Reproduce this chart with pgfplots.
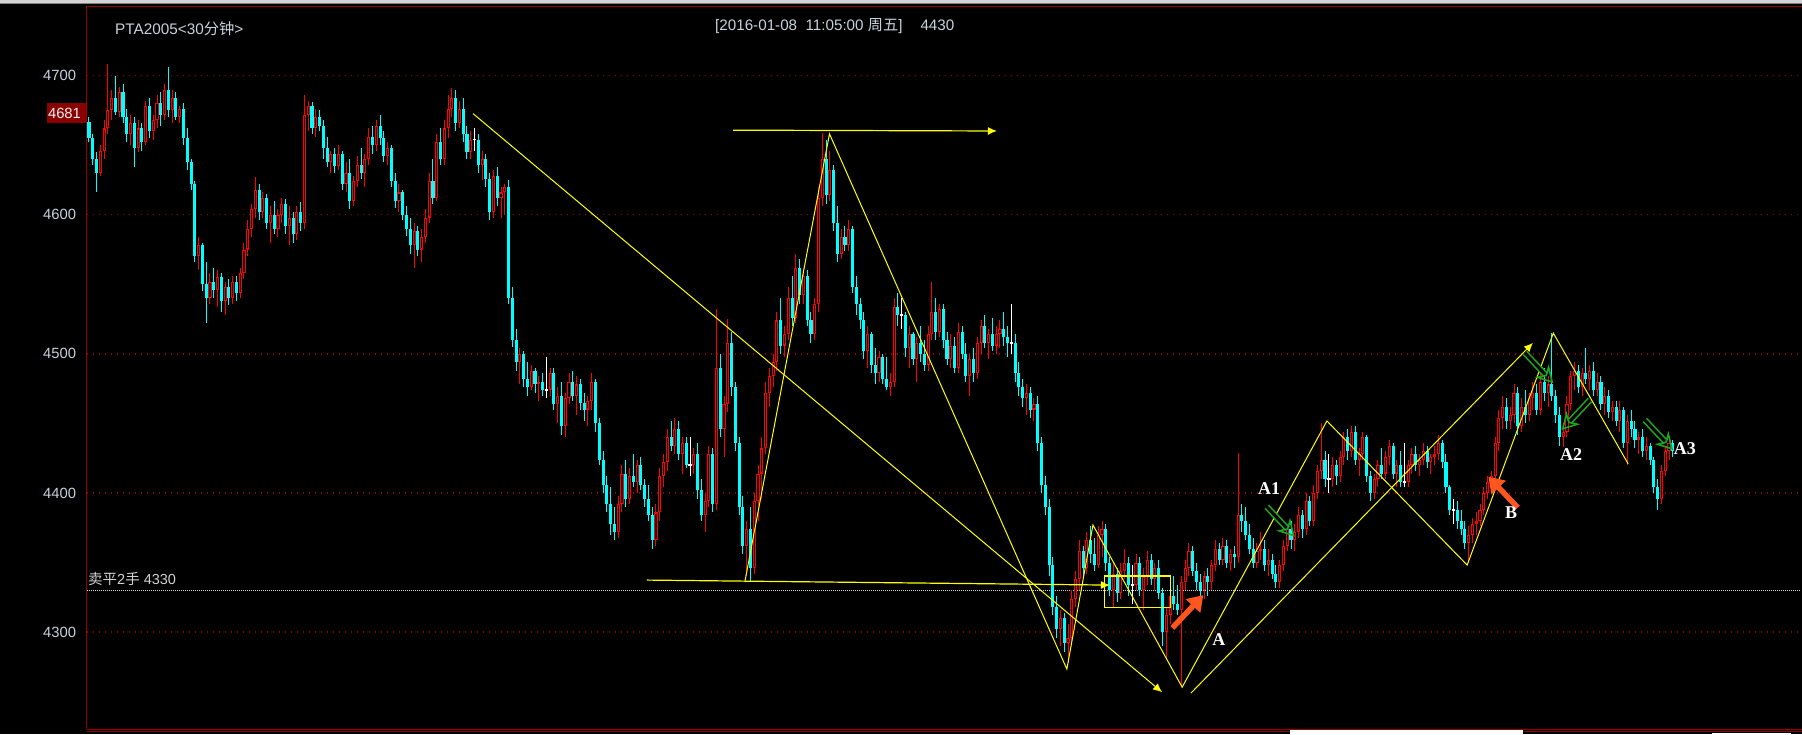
\documentclass[border=0pt]{standalone}
\usepackage{fontspec}
\setmainfont{Liberation Sans}
\newfontfamily\cjk{Noto Sans CJK SC}
\newfontfamily\lserif{Liberation Serif}
\usepackage{pgfplots}
\usepackage{pgfplotstable}
\pgfplotsset{compat=1.18}
\usetikzlibrary{arrows.meta}
\definecolor{cyanc}{RGB}{0,255,255}
\definecolor{redc}{RGB}{255,0,0}
\definecolor{gridred}{RGB}{150,0,0}
\definecolor{framered}{RGB}{150,0,0}
\definecolor{ticktext}{RGB}{200,210,222}
\definecolor{ylw}{RGB}{255,255,0}
\definecolor{orng}{RGB}{255,85,30}
\definecolor{grn}{RGB}{30,165,30}
\definecolor{boxred}{RGB}{139,0,0}
\definecolor{topgray}{RGB}{212,212,212}
\definecolor{midgray}{RGB}{130,130,130}
\definecolor{dotwhite}{RGB}{210,210,210}
\pgfplotstableread{
o h l c
4667 4670 4652 4655
4655 4658 4636 4640
4640 4645 4616 4630
4630 4650 4628 4646
4646 4668 4640 4662
4662 4708 4658 4675
4675 4690 4668 4684
4684 4700 4672 4674
4674 4692 4670 4688
4688 4694 4666 4670
4670 4676 4652 4658
4658 4672 4650 4666
4666 4670 4634 4648
4648 4668 4645 4662
4662 4666 4646 4652
4652 4682 4650 4678
4678 4684 4655 4660
4660 4672 4654 4668
4668 4686 4662 4680
4680 4688 4664 4672
4672 4694 4668 4690
4690 4706 4670 4675
4675 4690 4666 4684
4684 4688 4668 4670
4670 4678 4666 4676
4676 4680 4650 4655
4655 4662 4632 4638
4638 4640 4618 4622
4622 4624 4566 4570
4570 4584 4560 4578
4578 4580 4545 4550
4550 4566 4522 4540
4540 4558 4536 4552
4552 4562 4540 4546
4546 4560 4534 4555
4555 4558 4530 4538
4538 4552 4528 4548
4548 4554 4535 4540
4540 4556 4536 4552
4552 4556 4538 4544
4544 4562 4540 4558
4558 4580 4554 4575
4575 4596 4570 4590
4590 4608 4584 4604
4604 4627 4598 4618
4618 4622 4596 4602
4602 4616 4598 4612
4612 4615 4590 4594
4594 4606 4580 4600
4600 4610 4586 4590
4590 4604 4584 4600
4600 4612 4594 4608
4608 4611 4586 4592
4592 4606 4578 4598
4598 4602 4580 4586
4586 4606 4582 4602
4602 4609 4588 4594
4594 4686 4590 4672
4672 4682 4660 4678
4678 4681 4658 4662
4662 4676 4656 4670
4670 4675 4660 4664
4664 4668 4640 4648
4648 4656 4634 4638
4638 4646 4630 4644
4644 4648 4630 4635
4635 4650 4632 4644
4644 4646 4618 4622
4622 4638 4616 4630
4630 4640 4604 4610
4610 4628 4606 4624
4624 4642 4620 4636
4636 4648 4626 4630
4630 4644 4620 4640
4640 4662 4636 4656
4656 4664 4644 4650
4650 4668 4646 4664
4664 4672 4650 4655
4655 4660 4638 4642
4642 4652 4636 4648
4648 4650 4620 4624
4624 4630 4605 4610
4610 4622 4602 4616
4616 4618 4596 4600
4600 4606 4585 4590
4590 4598 4572 4578
4578 4594 4562 4588
4588 4592 4570 4575
4575 4590 4566 4584
4584 4604 4580 4598
4598 4630 4594 4624
4624 4640 4608 4612
4612 4658 4610 4652
4652 4662 4636 4640
4640 4668 4636 4662
4662 4686 4655 4676
4676 4691 4670 4684
4684 4690 4660 4666
4666 4682 4662 4676
4676 4684 4652 4658
4658 4664 4640 4645
4645 4660 4640 4654
4654 4662 4646 4654
4654 4658 4630 4636
4636 4646 4625 4640
4640 4644 4620 4626
4626 4630 4596 4602
4602 4632 4598 4628
4628 4634 4606 4612
4612 4620 4598 4616
4616 4622 4600 4620
4620 4625 4536 4540
4540 4548 4505 4510
4510 4518 4488 4494
4494 4504 4478 4500
4500 4502 4476 4482
4482 4494 4470 4476
4476 4492 4474 4488
4488 4490 4472 4478
4478 4484 4466 4480
4480 4486 4470 4474
4474 4498 4468 4474
4474 4490 4470 4486
4486 4490 4460 4464
4464 4476 4450 4470
4470 4480 4442 4448
4448 4472 4440 4468
4468 4486 4464 4480
4480 4488 4466 4470
4470 4484 4456 4478
4478 4482 4460 4465
4465 4472 4452 4460
4460 4470 4448 4466
4466 4486 4460 4480
4480 4482 4444 4450
4450 4454 4420 4424
4424 4430 4400 4406
4406 4412 4386 4392
4392 4404 4370 4378
4378 4390 4366 4372
4372 4398 4368 4392
4392 4420 4386 4414
4414 4424 4390 4396
4396 4418 4392 4412
4412 4428 4404 4408
4408 4424 4400 4420
4420 4426 4402 4406
4406 4410 4390 4396
4396 4406 4380 4384
4384 4390 4360 4366
4366 4392 4362 4386
4386 4418 4380 4412
4412 4428 4404 4422
4422 4446 4416 4440
4440 4452 4430 4434
4434 4454 4428 4446
4446 4452 4424 4428
4428 4440 4414 4436
4436 4440 4418 4420
4420 4440 4412 4420
4420 4432 4414 4428
4428 4436 4396 4402
4402 4410 4380 4384
4384 4400 4372 4394
4394 4434 4390 4428
4428 4432 4386 4392
4392 4532 4388 4490
4490 4500 4440 4446
4446 4470 4426 4464
4464 4525 4458 4508
4508 4516 4470 4476
4476 4480 4430 4436
4436 4440 4384 4390
4390 4398 4356 4362
4362 4380 4340 4374
4374 4390 4337 4346
4346 4400 4342 4394
4394 4420 4380 4414
4414 4440 4396 4432
4432 4480 4428 4472
4472 4490 4462 4484
4484 4500 4476 4494
4494 4530 4488 4524
4524 4540 4500 4506
4506 4520 4498 4514
4514 4548 4510 4540
4540 4556 4520 4526
4526 4572 4522 4562
4562 4568 4536 4542
4542 4562 4536 4556
4556 4560 4520 4524
4524 4530 4508 4514
4514 4540 4510 4536
4536 4620 4530 4612
4612 4659 4606 4640
4640 4654 4608 4614
4614 4646 4610 4632
4632 4636 4588 4594
4594 4606 4566 4572
4572 4590 4568 4584
4584 4592 4574 4578
4578 4596 4574 4590
4590 4592 4544 4548
4548 4556 4528 4536
4536 4540 4518 4524
4524 4530 4496 4502
4502 4520 4490 4514
4514 4516 4486 4492
4492 4504 4478 4486
4486 4502 4480 4498
4498 4500 4478 4482
4482 4498 4474 4476
4476 4486 4470 4480
4480 4540 4476 4534
4534 4544 4520 4528
4528 4540 4518 4528
4528 4530 4498 4504
4504 4520 4490 4514
4514 4516 4492 4496
4496 4512 4480 4508
4508 4520 4494 4500
4500 4510 4488 4492
4492 4520 4488 4514
4514 4552 4510 4530
4530 4540 4510 4516
4516 4536 4512 4532
4532 4536 4504 4510
4510 4516 4492 4496
4496 4514 4490 4506
4506 4512 4486 4490
4490 4522 4486 4516
4516 4520 4496 4500
4500 4508 4480 4484
4484 4500 4470 4496
4496 4504 4480 4486
4486 4512 4482 4508
4508 4524 4500 4520
4520 4528 4504 4508
4508 4518 4496 4514
4514 4526 4502 4506
4506 4520 4500 4514
4514 4524 4504 4518
4518 4530 4506 4512
4512 4520 4498 4508
4508 4536 4500 4508
4508 4514 4480 4486
4486 4494 4470 4476
4476 4482 4462 4468
4468 4478 4456 4472
4472 4476 4454 4460
4460 4468 4452 4464
4464 4470 4430 4436
4436 4440 4400 4406
4406 4412 4384 4390
4390 4396 4340 4348
4348 4354 4312 4318
4318 4326 4296 4302
4302 4316 4290 4310
4310 4314 4286 4292
4292 4306 4278 4296
4296 4330 4290 4324
4324 4344 4318 4338
4338 4366 4330 4358
4358 4362 4340 4346
4346 4372 4342 4366
4366 4376 4350 4356
4356 4368 4344 4348
4348 4376 4346 4370
4370 4380 4354 4374
4374 4378 4344 4350
4350 4354 4326 4330
4330 4350 4318 4342
4342 4346 4322 4328
4328 4350 4324 4344
4344 4360 4338 4350
4350 4354 4326 4334
4334 4348 4320 4334
4334 4356 4330 4350
4350 4354 4326 4330
4330 4346 4316 4340
4340 4358 4334 4352
4352 4356 4334 4338
4338 4350 4330 4346
4346 4352 4324 4328
4328 4332 4290 4300
4300 4318 4280 4312
4312 4330 4306 4326
4326 4340 4316 4320
4320 4334 4312 4316
4316 4340 4262 4336
4336 4352 4330 4346
4346 4364 4340 4358
4358 4362 4340 4344
4344 4350 4330 4336
4336 4342 4326 4330
4330 4344 4324 4340
4340 4346 4326 4336
4336 4352 4330 4348
4348 4366 4344 4360
4360 4364 4348 4352
4352 4368 4348 4362
4362 4366 4346 4350
4350 4360 4344 4356
4356 4362 4346 4354
4354 4429 4350 4384
4384 4392 4372 4380
4380 4390 4366 4370
4370 4378 4356 4360
4360 4368 4346 4350
4350 4364 4346 4358
4358 4372 4352 4360
4360 4366 4344 4348
4348 4360 4340 4352
4352 4356 4338 4342
4342 4348 4332 4336
4336 4352 4332 4348
4348 4366 4344 4362
4362 4378 4358 4374
4374 4380 4360 4366
4366 4378 4358 4372
4372 4390 4368 4384
4384 4388 4368 4374
4374 4400 4370 4394
4394 4398 4376 4380
4380 4406 4376 4400
4400 4420 4396 4416
4416 4450 4410 4424
4424 4430 4404 4410
4410 4428 4400 4410
4410 4426 4404 4420
4420 4424 4406 4412
4412 4430 4408 4426
4426 4444 4420 4440
4440 4446 4424 4430
4430 4448 4426 4444
4444 4448 4420 4424
4424 4432 4412 4428
4428 4444 4424 4440
4440 4442 4408 4412
4412 4416 4394 4400
4400 4414 4396 4410
4410 4424 4404 4420
4420 4432 4410 4414
4414 4430 4410 4426
4426 4438 4420 4434
4434 4436 4410 4414
4414 4424 4404 4420
4420 4430 4404 4408
4408 4436 4404 4408
4408 4424 4404 4420
4420 4432 4414 4428
4428 4434 4416 4420
4420 4428 4412 4424
4424 4436 4420 4430
4430 4434 4418 4422
4422 4428 4414 4426
4426 4434 4420 4428
4428 4442 4424 4436
4436 4438 4418 4422
4422 4428 4400 4404
4404 4406 4384 4388
4388 4396 4378 4388
4388 4394 4374 4380
4380 4388 4370 4374
4374 4380 4360 4364
4364 4376 4350 4370
4370 4382 4364 4378
4378 4386 4370 4380
4380 4392 4376 4388
4388 4404 4384 4400
4400 4412 4396 4408
4408 4416 4400 4412
4412 4440 4408 4436
4436 4460 4430 4454
4454 4470 4446 4462
4462 4468 4446 4452
4452 4462 4446 4456
4456 4478 4450 4472
4472 4476 4442 4448
4448 4468 4444 4462
4462 4474 4450 4456
4456 4472 4452 4468
4468 4480 4460 4472
4472 4478 4456 4460
4460 4486 4456 4480
4480 4490 4466 4472
4472 4484 4462 4478
4478 4515 4466 4470
4470 4474 4450 4456
4456 4462 4434 4440
4440 4450 4433 4444
4444 4470 4440 4464
4464 4488 4460 4484
4484 4494 4474 4488
4488 4492 4472 4476
4476 4490 4470 4486
4486 4504 4478 4482
4482 4492 4474 4488
4488 4494 4470 4474
4474 4486 4470 4480
4480 4484 4460 4464
4464 4476 4456 4470
4470 4474 4454 4458
4458 4466 4452 4462
4462 4466 4448 4452
4452 4466 4444 4460
4460 4462 4432 4436
4436 4456 4420 4452
4452 4460 4440 4446
4446 4452 4432 4438
4438 4444 4428 4440
4440 4446 4426 4430
4430 4440 4424 4434
4434 4436 4420 4424
4424 4426 4400 4404
4404 4410 4388 4396
4396 4420 4392 4416
4416 4434 4412 4430
4430 4440 4424 4436
4436 4438 4426 4430
}\candles
\pgfplotsset{
  candle/.style={draw=none, forget plot,
    error bars/y dir=plus, error bars/y explicit, error bars/error mark=none},
  garrow/.style={draw=grn, double=black, double distance=3pt, line width=1.6pt,
    -{Stealth[length=17pt,width=19pt,open]}},
}
\begin{document}
\begin{tikzpicture}[x=1pt,y=1pt]
\path[use as bounding box] (0,0) rectangle (1802,734);
\fill[black] (0,0) rectangle (1802,734);
\fill[topgray] (0,731) rectangle (1802,734);
\draw[midgray, line width=1pt] (0,730.5) -- (1802,730.5);
\begin{axis}[
  at={(86.5pt,4.7pt)}, anchor=south west,
  scale only axis, width=1713.5pt, height=722.6pt,
  xmin=-0.66, xmax=452.65, ymin=4230.2, ymax=4749.6,
  axis line style={draw=none},
  xtick=\empty,
  ytick={4300,4400,4500,4600,4700},
  major tick length=0pt,
  tick style={draw=none},
  ymajorgrids,
  major grid style={draw=gridred, line width=1.3pt, dash pattern=on 1.3pt off 4.7pt},
  yticklabel style={font=\fontsize{14.8}{16}\selectfont, text=ticktext, inner sep=0pt, xshift=-10.3pt},
  /pgf/number format/assume math mode=true,
  /pgf/number format/set thousands separator={},
]
% reference dotted line at 4330
\addplot[dotwhite, line width=1pt, dash pattern=on 1pt off 1pt, forget plot] coordinates {(-0.66,4330) (452.65,4330)};
% down candles: wicks and bodies
\addplot[candle, error bars/error bar style={draw=cyanc, line width=1pt, solid}]
  table[x expr=\coordindex, y expr={\thisrow{c}<\thisrow{o} ? \thisrow{l} : 0},
    y error plus expr={\thisrow{c}<\thisrow{o} ? \thisrow{h}-\thisrow{l} : 0}] {\candles};
\addplot[candle, error bars/error bar style={draw=cyanc, line width=3.1pt, solid}]
  table[x expr=\coordindex, y expr={\thisrow{c}<\thisrow{o} ? \thisrow{c} : 0},
    y error plus expr={\thisrow{c}<\thisrow{o} ? \thisrow{o}-\thisrow{c} : 0}] {\candles};
% up candles: wicks, bodies, hollow interior
\addplot[candle, error bars/error bar style={draw=redc, line width=1pt, solid}]
  table[x expr=\coordindex, y expr={\thisrow{c}>\thisrow{o} ? \thisrow{l} : 0},
    y error plus expr={\thisrow{c}>\thisrow{o} ? \thisrow{h}-\thisrow{l} : 0}] {\candles};
\addplot[candle, error bars/error bar style={draw=redc, line width=3.1pt, solid}]
  table[x expr=\coordindex, y expr={\thisrow{c}>\thisrow{o} ? \thisrow{o} : 0},
    y error plus expr={\thisrow{c}>\thisrow{o} ? \thisrow{c}-\thisrow{o} : 0}] {\candles};
\addplot[candle, error bars/error bar style={draw=black, line width=1.1pt, solid}]
  table[x expr=\coordindex, y expr={\thisrow{c}-\thisrow{o}>2.2 ? \thisrow{o}+0.75 : 0},
    y error plus expr={\thisrow{c}-\thisrow{o}>2.2 ? \thisrow{c}-\thisrow{o}-1.5 : 0}] {\candles};
% doji candles
\addplot[candle, error bars/error bar style={draw=white, line width=1pt, solid}]
  table[x expr=\coordindex, y expr={\thisrow{c}==\thisrow{o} ? \thisrow{l} : 0},
    y error plus expr={\thisrow{c}==\thisrow{o} ? \thisrow{h}-\thisrow{l} : 0}] {\candles};
\addplot[candle, error bars/error bar style={draw=white, line width=3.4pt, solid}]
  table[x expr=\coordindex, y expr={\thisrow{c}==\thisrow{o} ? \thisrow{c}-0.6 : 0},
    y error plus expr={\thisrow{c}==\thisrow{o} ? 1.2 : 0}] {\candles};
% yellow annotation lines
\addplot[ylw, line width=1pt, -{Latex[length=9pt,width=8pt]}] coordinates {(101.6,4672.7) (283.9,4256.8)};
\addplot[ylw, line width=1.2pt, -{Latex[length=9pt,width=8pt]}] coordinates {(170.4,4660.8) (240.2,4660.2)};
\addplot[ylw, line width=1.2pt, -{Latex[length=9pt,width=8pt]}] coordinates {(147.6,4337.4) (270.1,4333.8)};
\addplot[ylw, line width=1pt] coordinates {(173.5,4336.0) (195.9,4658.1) (258.7,4273.4) (265.6,4377.0) (289.2,4260.4) (327.5,4451.8) (364.6,4348.2) (387.4,4514.9) (407.2,4420.9)};
\addplot[ylw, line width=1pt, -{Latex[length=9pt,width=8pt]}] coordinates {(291.5,4256.1) (382.0,4507.9)};
\addplot[ylw, line width=1.2pt] coordinates {(268.6,4340.3) (286.2,4340.3) (286.2,4317.8) (268.6,4317.8) (268.6,4340.3)};
% orange arrows
\addplot[orng, line width=5.5pt, -{Triangle[length=15pt,width=19pt]}] coordinates {(286.6,4303.0) (294.8,4326.6)};
\addplot[orng, line width=5.5pt, -{Triangle[length=15pt,width=19pt]}] coordinates {(378.0,4389.5) (370.2,4411.7)};
% green arrows
\addplot[garrow] coordinates {(311.6,4390.1) (319.0,4368.6)};
\addplot[garrow] coordinates {(379.9,4500.7) (387.4,4478.9)};
\addplot[garrow] coordinates {(397.1,4466.9) (389.6,4445.3)};
\addplot[garrow] coordinates {(411.6,4452.5) (419.1,4430.9)};
% labels
\node[text=white, font=\lserif\bfseries\fontsize{18}{19}\selectfont] at (axis cs:312.2,4403.2) {A1};
\node[text=white, font=\lserif\bfseries\fontsize{18}{19}\selectfont] at (axis cs:298.9,4294.7) {A};
\node[text=white, font=\lserif\bfseries\fontsize{18}{19}\selectfont] at (axis cs:376.2,4385.9) {B};
\node[text=white, font=\lserif\bfseries\fontsize{18}{19}\selectfont] at (axis cs:392.1,4427.3) {A2};
\node[text=white, font=\lserif\bfseries\fontsize{18}{19}\selectfont] at (axis cs:422.2,4432.0) {A3};
\end{axis}
% frame
\draw[framered, line width=1pt] (86.5,4.7) -- (86.5,727.2) -- (1802,727.2);
\draw[framered, line width=1pt] (86.5,4.7) -- (1802,4.7);
\draw[framered, line width=1pt] (86.5,2.2) -- (1802,2.2);
\fill[white] (1290,0) rectangle (1523,3.6);
\fill[white] (1712,0) rectangle (1791,1.2);
% texts
\node[anchor=west, inner sep=0pt, text=ticktext, font=\fontsize{15.3}{17}\selectfont] at (115,705) {PTA2005<30{\cjk 分钟}>};
\node[anchor=west, inner sep=0pt, text=ticktext, font=\fontsize{15.2}{17}\selectfont] at (715,708) {[2016-01-08\ \ 11:05:00 {\cjk 周五}]\hspace{18pt}4430};
\node[anchor=west, inner sep=0pt, text=dotwhite, font=\fontsize{14.5}{16}\selectfont] at (88,155) {{\cjk 卖平}2{\cjk 手} 4330};
\fill[boxred] (46.7,611.3) rectangle (86,630.7);
\node[inner sep=0pt, text=white!90!gray, font=\fontsize{14.8}{16}\selectfont] at (64.5,621) {4681};
\end{tikzpicture}
\end{document}
